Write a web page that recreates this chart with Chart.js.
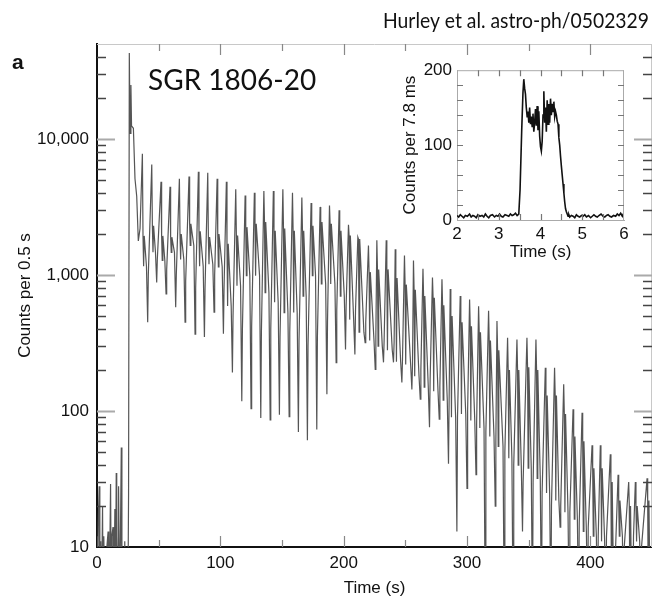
<!DOCTYPE html>
<html>
<head>
<meta charset="utf-8">
<script src="https://cdn.jsdelivr.net/npm/chart.js@4.4.1/dist/chart.umd.min.js"></script>
<style>
  html, body { margin: 0; padding: 0; background: #fff; }
  #wrap { position: relative; width: 652px; height: 601px; overflow: hidden; }
  #mainChart { position: absolute; left: 0; top: 0; }
  #insetChart { position: absolute; left: 395px; top: 55px; }
</style>
</head>
<body>
<div id="wrap">
  <canvas id="mainChart" width="652" height="601"></canvas>
  <canvas id="insetChart" width="240" height="210"></canvas>
</div>
<script>
// Curva de luz principal (cuentas por 0.5 s)
const preTimes  = [0, 0.5, 1.0, 1.8, 2.3, 3.0, 3.5, 4.5, 5.0, 5.5, 6.5, 7.5, 8.0, 9.0, 9.5, 10.5, 11.0, 11.5, 12.0, 13.0,
                   13.5, 14.5, 15.0, 15.6, 16.0, 17.0, 17.5, 18.5, 19.0, 19.7, 20.2, 21.0, 22.0, 22.5, 23.5, 24.5, 25.0, 25.6];
const preCounts = [12, 3, 15, 28, 4, 11, 3, 20, 3, 12, 4, 3, 10, 13, 3, 11, 29, 5, 12, 14,
                   3, 19, 4, 35, 12, 3, 28, 3, 12, 54, 3, 10, 3, 11, 3, 10, 3, 25];

const flareTimes  = [26.2, 26.8, 27.5, 28.0, 29.5, 30.8, 32.2, 33.5, 34.9];
const flareCounts = [43000, 11000, 25000, 12500, 12000, 5100, 3800, 1780, 2200];

// Un valor por ciclo de pulsación (periodo ~7.56 s)
const peakTimes = [36.8, 44.4, 51.9, 59.2, 66.8, 74.6, 82.2, 89.8, 97.4, 104.9,
  112.5, 120.1, 127.6, 135.3, 143.0, 150.7, 158.5, 166.1, 173.6, 180.9,
  188.5, 196.3, 203.9, 211.5, 220.1, 226.9, 234.5, 241.8, 249.3, 256.6,
  264.3, 272.0, 279.7, 286.4, 294.5, 302.1, 309.4, 317.5, 324.3, 332.9,
  340.5, 348.6, 355.9, 363.5, 371.0, 378.4, 386.0, 393.3, 401.4, 408.1,
  416.2, 422.5, 431.1, 436.5, 446.0];
const peakCounts = [7800, 6500, 4850, 4450, 5100, 5300, 5750, 5650, 5100, 4850,
  4270, 3850, 4030, 4150, 4150, 4270, 4030, 3720, 3390, 3170,
  3250, 2990, 2340, 1900, 1650, 1800, 1800, 1550, 1390, 1280,
  1110, 960, 930, 790, 700, 660, 590, 545, 460, 345,
  335, 345, 335, 208, 208, 157, 103, 97, 56, 56,
  48, 34, 30, 30, 32];
const secHigh = [1940, 2300, 1940, 1900, 2000, 2380, 2100, 1900, 2000, 1700,
  1950, 2250, 2380, 2450, 2120, 2200, 2120, 2120, 2300, 2450,
  2380, 2120, 1950, 1840, 1050, 1100, 1100, 950, 850, 780,
  700, 680, 600, 500, 450, 420, 380, 330, 280, 200,
  200, 210, 200, 130, 130, 95, 65, 60, 38, 38,
  30, 22, 20, 20, 22];
const secLow = [1160, 1470, 1280, 1470, 1300, 1650, 1160, 1200, 1150, 593,
  834, 990, 990, 741, 630, 530, 530, 700, 990, 860,
  860, 700, 470, 380, 330, 300, 280, 230, 220, 180,
  150, 140, 120, 90, 95, 85, 75, 65, 55, 45,
  40, 38, 32, 25, 22, 18, 16, 13, 12, 11,
  4, 12, 4, 11, 4];
const troughTimes = [41.1, 48.4, 56.0, 63.8, 71.4, 79.5, 87.1, 94.9, 102.5, 109.8,
  117.4, 124.9, 132.8, 140.4, 147.9, 155.8, 163.3, 170.6, 178.2, 186.4,
  193.9, 201.5, 209.1, 217.4, 225.6, 232.3, 240.4, 247.2, 255.3, 262.1,
  269.6, 277.5, 285.0, 291.8, 300.0, 307.3, 314.8, 322.9, 330.2, 337.4,
  345.0, 353.1, 360.4, 368.0, 375.5, 382.9, 390.5, 397.8, 405.9, 412.6,
  420.0, 427.0, 434.5, 441.0, 449.5];
const troughCounts = [450, 880, 725, 580, 450, 367, 350, 533, 370, 192,
  118, 104, 89, 86, 94, 91, 70, 61, 73, 133,
  227, 283, 260, 318, 202, 228, 228, 162, 144, 122,
  76, 87, 41, 13, 27, 34, 3, 20, 3, 3,
  13, 3, 3, 3, 14, 3, 3, 3, 3, 3,
  3, 3, 3, 3, 3];
const riseCounts = [1000, 1300, 1100, 1000, 900, 800, 800, 1000, 800, 500,
  400, 420, 380, 400, 350, 380, 330, 300, 350, 450,
  550, 600, 550, 450, 350, 330, 320, 240, 220, 200,
  170, 150, 120, 90, 100, 80, 70, 60, 50, 40,
  30, 30, 25, 20, 20, 18, 15, 14, 12, 12,
  10, 10, 12, 10, 10];

// Recuadro: cuentas por 7.8 ms
const insetTime = [2.00, 2.04, 2.08, 2.12, 2.16, 2.20, 2.25, 2.30, 2.34, 2.38,
  2.42, 2.46, 2.50, 2.55, 2.60, 2.64, 2.68, 2.72, 2.76, 2.80,
  2.85, 2.90, 2.94, 2.98, 3.02, 3.06, 3.10, 3.15, 3.20, 3.24,
  3.28, 3.32, 3.36, 3.40, 3.44, 3.48,
  3.51, 3.55, 3.58, 3.60, 3.62, 3.64, 3.66, 3.68, 3.70, 3.72,
  3.74, 3.76, 3.78, 3.80, 3.82, 3.84, 3.86, 3.88, 3.90, 3.92,
  3.94, 3.96, 3.98, 4.00, 4.02, 4.04, 4.06, 4.08, 4.10, 4.12,
  4.14, 4.16, 4.18, 4.20, 4.22, 4.24, 4.26, 4.28, 4.30, 4.32,
  4.34, 4.36, 4.38, 4.40, 4.42, 4.44, 4.46, 4.48, 4.50, 4.52,
  4.54, 4.56, 4.58, 4.60, 4.62, 4.64, 4.66, 4.68, 4.70,
  4.74, 4.78, 4.82, 4.86, 4.90, 4.94, 4.98, 5.02, 5.06, 5.10,
  5.15, 5.20, 5.24, 5.28, 5.32, 5.36, 5.40, 5.45, 5.50, 5.54,
  5.58, 5.62, 5.66, 5.70, 5.75, 5.80, 5.84, 5.88, 5.92, 5.96,
  6.00];
const insetCounts = [6, 4, 7, 5, 3, 6, 5, 8, 4, 6,
  5, 3, 7, 5, 6, 4, 8, 5, 3, 6,
  7, 4, 6, 5, 8, 5, 4, 7, 6, 5,
  8, 6, 7, 9, 6, 8,
  40, 120, 170, 188, 176, 168, 150, 138, 145, 130,
  150, 128, 138, 125, 142, 118, 130, 148, 126, 152,
  120, 145, 112, 98, 92, 105, 140, 172, 130, 150,
  118, 160, 128, 155, 130, 162, 140, 155, 145, 158,
  138, 145, 140, 132, 128, 110, 100, 85, 72, 60,
  48, 36, 24, 15, 11, 8, 5, 7, 4,
  6, 5, 3, 7, 5, 4, 6, 5, 7, 4,
  6, 3, 5, 7, 5, 4, 6, 8, 5, 4,
  6, 7, 5, 4, 6, 5, 8, 6, 9, 5,
  10];

// Etiquetas de los ejes
const xLabelValues = [0, 100, 200, 300, 400];
const yLabelValues = [10, 100, 1000, 10000];
const insetXLabels = [2, 3, 4, 5, 6];
const insetYLabels = [0, 100, 200];

// Construye la serie en el orden de la curva (bins de 0.5 s)
const lightCurve = [];
preTimes.forEach((t, i) => lightCurve.push({ x: t, y: preCounts[i] }));
flareTimes.forEach((t, i) => lightCurve.push({ x: t, y: flareCounts[i] }));
peakTimes.forEach((t, i) => {
  lightCurve.push({ x: t, y: peakCounts[i] });
  lightCurve.push({ x: t + 0.5, y: secHigh[i] });
  lightCurve.push({ x: t + 1.0, y: secLow[i] });
  lightCurve.push({ x: t + 1.5, y: secHigh[i] });
  lightCurve.push({ x: troughTimes[i] - 1.0, y: secLow[i] });
  lightCurve.push({ x: troughTimes[i], y: troughCounts[i] });
  lightCurve.push({ x: troughTimes[i] + 0.5, y: riseCounts[i] });
});
const insetCurve = insetTime.map((t, i) => ({ x: t, y: insetCounts[i] }));

// Marcas de los ejes dibujadas hacia dentro
const mainXTicks = [];
for (let v = 50; v < 450; v += 50) {
  mainXTicks.push({ value: v, len: v % 100 === 0 ? 11 : 7, color: '#888', width: 1.2 });
}
const mainYTicks = [];
[10, 100, 1000, 10000].forEach(d => {
  for (let m = 1; m <= 9; m++) {
    const v = m * d;
    if (v <= 10 || v >= 50000) continue;
    if (m === 1) mainYTicks.push({ value: v, len: 18, color: '#aaa', width: 2 });
    else mainYTicks.push({ value: v, len: 9, color: '#444', width: 1.6 });
  }
});
const insetXTicks = [];
for (let v = 2.5; v < 6; v += 0.5) insetXTicks.push({ value: v, len: 6, color: '#777', width: 1.2 });
const insetYTicks = [];
for (let v = 20; v < 200; v += 20) insetYTicks.push({ value: v, len: 6, color: '#777', width: 1.2 });

const frameTicks = {
  id: 'frameTicks',
  afterDraw(chart, args, o) {
    const { ctx, chartArea: a } = chart;
    const xs = chart.scales.x, ys = chart.scales.y;
    ctx.save();
    ctx.strokeStyle = o.frameColor;
    ctx.lineWidth = 1;
    ctx.beginPath();
    ctx.moveTo(a.left, a.top + 0.5);
    ctx.lineTo(a.right, a.top + 0.5);
    ctx.moveTo(a.right - 0.5, a.top);
    ctx.lineTo(a.right - 0.5, a.bottom);
    ctx.stroke();
    o.xTicks.forEach(t => {
      const px = Math.round(xs.getPixelForValue(t.value)) + 0.5;
      ctx.strokeStyle = t.color;
      ctx.lineWidth = t.width;
      ctx.beginPath();
      ctx.moveTo(px, a.bottom);
      ctx.lineTo(px, a.bottom - t.len);
      ctx.moveTo(px, a.top);
      ctx.lineTo(px, a.top + t.len);
      ctx.stroke();
    });
    o.yTicks.forEach(t => {
      const py = Math.round(ys.getPixelForValue(t.value)) + 0.5;
      ctx.strokeStyle = t.color;
      ctx.lineWidth = t.width;
      ctx.beginPath();
      ctx.moveTo(a.left, py);
      ctx.lineTo(a.left + t.len, py);
      ctx.moveTo(a.right, py);
      ctx.lineTo(a.right - t.len, py);
      ctx.stroke();
    });
    (o.texts || []).forEach(tx => {
      ctx.font = tx.font;
      ctx.fillStyle = '#111';
      ctx.textAlign = tx.align;
      ctx.textBaseline = 'alphabetic';
      if (tx.maxWidth) ctx.fillText(tx.text, tx.x, tx.y, tx.maxWidth);
      else ctx.fillText(tx.text, tx.x, tx.y);
    });
    ctx.restore();
  }
};

const axisFont = { family: 'Liberation Sans', size: 17 };

new Chart(document.getElementById('mainChart'), {
  type: 'line',
  data: {
    datasets: [{
      data: lightCurve,
      borderColor: '#555',
      borderWidth: 1.2,
      pointRadius: 0,
      tension: 0
    }]
  },
  options: {
    responsive: false,
    animation: false,
    devicePixelRatio: 1,
    layout: { padding: { top: 44, right: 0, left: 0, bottom: 0 } },
    plugins: {
      legend: { display: false },
      tooltip: { enabled: false },
      frameTicks: {
        frameColor: '#c8c8c8',
        xTicks: mainXTicks,
        yTicks: mainYTicks,
        texts: [
          { text: 'Hurley et al. astro-ph/0502329', x: 649, y: 28, align: 'right', font: '22px Lato', maxWidth: 266 },
          { text: 'SGR 1806-20', x: 148, y: 90, align: 'left', font: '28px Lato' },
          { text: 'a', x: 12, y: 69, align: 'left', font: 'bold 21px "Liberation Sans"' }
        ]
      }
    },
    scales: {
      x: {
        type: 'linear',
        min: 0,
        max: 450,
        grid: { display: false, drawTicks: false },
        border: { display: true, color: '#111', width: 2 },
        afterBuildTicks: s => { s.ticks = xLabelValues.map(v => ({ value: v })); },
        ticks: { font: axisFont, color: '#111', padding: 6, maxRotation: 0, autoSkip: false },
        title: { display: true, text: 'Time (s)', font: axisFont, color: '#111', padding: { top: 0, bottom: 2 } },
        afterFit: s => { s.height = 54; }
      },
      y: {
        type: 'logarithmic',
        min: 10,
        max: 50000,
        grid: { display: false, drawTicks: false },
        border: { display: true, color: '#111', width: 2 },
        afterBuildTicks: s => { s.ticks = yLabelValues.map(v => ({ value: v })); },
        ticks: { font: axisFont, color: '#111', padding: 8, callback: v => Number(v).toLocaleString('en-US') },
        title: { display: true, text: 'Counts per 0.5 s', font: axisFont, color: '#111', padding: { top: 15, bottom: 0 } },
        afterFit: s => { s.width = 97; }
      }
    }
  },
  plugins: [frameTicks]
});

new Chart(document.getElementById('insetChart'), {
  type: 'line',
  data: {
    datasets: [{
      data: insetCurve,
      borderColor: '#111',
      borderWidth: 1.6,
      pointRadius: 0,
      tension: 0
    }]
  },
  options: {
    responsive: false,
    animation: false,
    devicePixelRatio: 1,
    layout: { padding: { top: 10, right: 11, left: 0, bottom: 0 } },
    plugins: {
      legend: { display: false },
      tooltip: { enabled: false },
      frameTicks: { frameColor: '#aaa', xTicks: insetXTicks, yTicks: insetYTicks }
    },
    scales: {
      x: {
        type: 'linear',
        min: 2,
        max: 6,
        grid: { display: false, drawTicks: false },
        border: { display: true, color: '#aaa', width: 1 },
        afterBuildTicks: s => { s.ticks = insetXLabels.map(v => ({ value: v })); },
        ticks: { font: axisFont, color: '#111', padding: 4, maxRotation: 0, autoSkip: false },
        title: { display: true, text: 'Time (s)', font: axisFont, color: '#111', padding: { top: 0, bottom: 2 } },
        afterFit: s => { s.height = 45; }
      },
      y: {
        type: 'linear',
        min: 0,
        max: 200,
        grid: { display: false, drawTicks: false },
        border: { display: true, color: '#aaa', width: 1 },
        afterBuildTicks: s => { s.ticks = insetYLabels.map(v => ({ value: v })); },
        ticks: { font: axisFont, color: '#111', padding: 5 },
        title: { display: true, text: 'Counts per 7.8 ms', font: axisFont, color: '#111', padding: { top: 5, bottom: 0 } },
        afterFit: s => { s.width = 62; }
      }
    }
  },
  plugins: [frameTicks]
});
</script>
</body>
</html>
